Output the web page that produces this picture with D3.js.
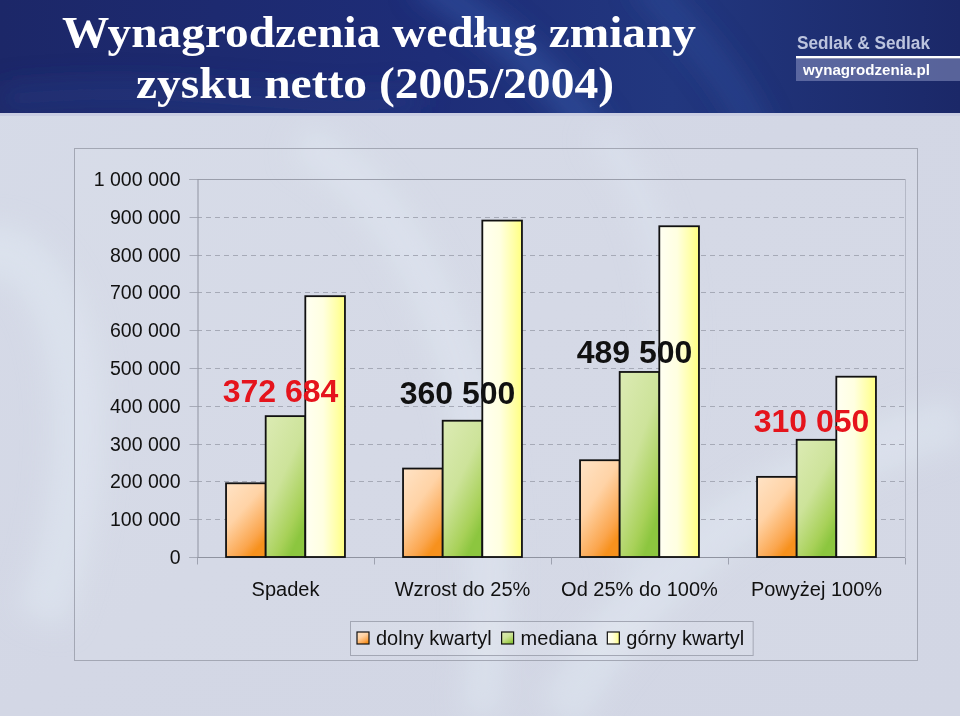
<!DOCTYPE html>
<html>
<head>
<meta charset="utf-8">
<script src="https://cdn.jsdelivr.net/npm/d3@7/dist/d3.min.js"></script>
<style>
  html, body { margin: 0; padding: 0; background: #d4d8e6; }
  svg { display: block; }
</style>
</head>
<body>
<svg id="chart" width="960" height="716"></svg>
<script>
// ---------------- DATA ----------------
const titleLines = ["Wynagrodzenia według zmiany", "zysku netto (2005/2004)"];
const categories = ["Spadek", "Wzrost do 25%", "Od 25% do 100%", "Powyżej 100%"];
const seriesNames = ["dolny kwartyl", "mediana", "górny kwartyl"];
const lowerQuartile = [195000, 234000, 256000, 212000];
const medianValues  = [372684, 360500, 489500, 310050];
const upperQuartile = [690000, 890000, 875000, 477000];
const medianLabels  = ["372 684", "360 500", "489 500", "310 050"];
const labelAnchor   = [410000, 406000, 512000, 331000]; // value level of each label's baseline
const yTicks = [0, 100000, 200000, 300000, 400000, 500000, 600000, 700000, 800000, 900000, 1000000];
const yMax = 1000000;

// --------------- SETUP ---------------
const svg = d3.select("#chart");
const defs = svg.append("defs");
const W = 960, H = 716;

// background texture
const bgGrad = defs.append("linearGradient").attr("id", "bgGrad").attr("x1", 0).attr("y1", 0).attr("x2", 1).attr("y2", 1);
bgGrad.append("stop").attr("offset", 0).attr("stop-color", "#d6dbe8");
bgGrad.append("stop").attr("offset", 0.5).attr("stop-color", "#d3d7e5");
bgGrad.append("stop").attr("offset", 1).attr("stop-color", "#d2d6e4");
svg.append("rect").attr("width", W).attr("height", H).attr("fill", "url(#bgGrad)");
const blur = defs.append("filter").attr("id", "soft").attr("x", "-50%").attr("y", "-50%").attr("width", "200%").attr("height", "200%");
blur.append("feGaussianBlur").attr("stdDeviation", 14);
const swoosh = svg.append("g").attr("filter", "url(#soft)");
swoosh.append("path").attr("d", "M-40,260 C60,200 120,420 40,620").attr("stroke", "#dfe8f1").attr("stroke-width", 50).attr("fill", "none").attr("opacity", 0.6);
swoosh.append("path").attr("d", "M300,140 C420,200 520,420 480,716").attr("stroke", "#dde6f0").attr("stroke-width", 40).attr("fill", "none").attr("opacity", 0.6);
swoosh.append("path").attr("d", "M560,716 C650,560 760,480 960,420").attr("stroke", "#dde6f0").attr("stroke-width", 50).attr("fill", "none").attr("opacity", 0.6);
swoosh.append("path").attr("d", "M600,130 C700,260 680,420 620,560").attr("stroke", "#dce4ef").attr("stroke-width", 30).attr("fill", "none").attr("opacity", 0.5);

// header
const hdGrad = defs.append("linearGradient").attr("id", "hdGrad").attr("x1", 0).attr("y1", 0).attr("x2", 1).attr("y2", 0);
hdGrad.append("stop").attr("offset", 0).attr("stop-color", "#1c2768");
hdGrad.append("stop").attr("offset", 0.45).attr("stop-color", "#1e2d78");
hdGrad.append("stop").attr("offset", 0.7).attr("stop-color", "#22377f");
hdGrad.append("stop").attr("offset", 1).attr("stop-color", "#1b2868");
svg.append("rect").attr("x", 0).attr("y", 0).attr("width", W).attr("height", 113).attr("fill", "url(#hdGrad)");
const hdClip = defs.append("clipPath").attr("id", "hdClip");
hdClip.append("rect").attr("width", W).attr("height", 113);
const hdArt = svg.append("g").attr("clip-path", "url(#hdClip)").append("g").attr("filter", "url(#soft)");
hdArt.append("path").attr("d", "M420,-20 C520,40 560,90 600,140").attr("stroke", "#3b62b0").attr("stroke-width", 26).attr("fill", "none").attr("opacity", 0.55);
hdArt.append("path").attr("d", "M640,-20 C700,40 740,90 760,140").attr("stroke", "#3557a6").attr("stroke-width", 22).attr("fill", "none").attr("opacity", 0.45);
hdArt.append("path").attr("d", "M0,100 C200,80 300,120 420,100").attr("stroke", "#2a3f8c").attr("stroke-width", 20).attr("fill", "none").attr("opacity", 0.5);
svg.append("rect").attr("x", 0).attr("y", 113).attr("width", W).attr("height", 3).attr("fill", "#c9cde2");

// title
const titleG = svg.append("g").attr("font-family", "'Liberation Serif','Times New Roman',serif").attr("font-weight", "bold").attr("fill", "#ffffff");
const titleSpecs = [{ x: 62, w: 634, y: 47 }, { x: 136, w: 478, y: 98 }];
titleLines.forEach((t, i) => {
  titleG.append("text").attr("x", titleSpecs[i].x).attr("y", titleSpecs[i].y)
    .attr("font-size", 45).attr("textLength", titleSpecs[i].w).attr("lengthAdjust", "spacingAndGlyphs").text(t);
});

// logo
svg.append("text").attr("x", 797).attr("y", 49).attr("font-family", "'Liberation Sans',Arial,sans-serif")
  .attr("font-weight", "bold").attr("font-size", 18).attr("fill", "#bcc4de").attr("textLength", 133).attr("lengthAdjust", "spacingAndGlyphs")
  .text("Sedlak & Sedlak");
svg.append("rect").attr("x", 796).attr("y", 56).attr("width", 164).attr("height", 2.5).attr("fill", "#ffffff");
svg.append("rect").attr("x", 796).attr("y", 59).attr("width", 164).attr("height", 22).attr("fill", "#8a93c2").attr("opacity", 0.55);
svg.append("text").attr("x", 803).attr("y", 75).attr("font-family", "'Liberation Sans',Arial,sans-serif")
  .attr("font-weight", "bold").attr("font-size", 15).attr("fill", "#ffffff").attr("textLength", 127).attr("lengthAdjust", "spacingAndGlyphs")
  .text("wynagrodzenia.pl");

// chart outer box
svg.append("rect").attr("x", 74.5).attr("y", 148.5).attr("width", 843).attr("height", 512)
  .attr("fill", "#ffffff").attr("fill-opacity", 0.06).attr("stroke", "#a3a7b4").attr("stroke-width", 1);

// --------------- SCALES ---------------
const plot = { left: 197, right: 905, top: 179, bottom: 557 };
const x = d3.scaleBand().domain(categories).range([plot.left, plot.right]).padding(0);
const x1 = d3.scaleBand().domain(seriesNames).range([0, x.bandwidth()]).paddingInner(0).paddingOuter(0.733);
const y = d3.scaleLinear().domain([0, yMax]).range([plot.bottom, plot.top]);

// gradients for series
function mkGrad(id, stops, x2, y2) {
  const g = defs.append("linearGradient").attr("id", id).attr("x1", 0).attr("y1", 0).attr("x2", x2).attr("y2", y2);
  stops.forEach(s => g.append("stop").attr("offset", s[0]).attr("stop-color", s[1]));
}
mkGrad("gLow", [[0, "#ffe3c6"], [0.45, "#ffd3a6"], [0.85, "#fba64e"], [1, "#f7911d"]], 0.6, 1);
mkGrad("gMed", [[0, "#dcebb4"], [0.5, "#cde39a"], [0.85, "#a8d159"], [1, "#8cc63f"]], 0.6, 1);
mkGrad("gUp",  [[0, "#fffff2"], [0.45, "#ffffe0"], [0.8, "#ffffa6"], [1, "#ffff80"]], 1, 0);
const fills = { "dolny kwartyl": "url(#gLow)", "mediana": "url(#gMed)", "górny kwartyl": "url(#gUp)" };

// --------------- GRID & AXES ---------------
const gridG = svg.append("g");
gridG.selectAll("line").data(yTicks.filter(d => d > 0)).join("line")
  .attr("x1", plot.left).attr("x2", plot.right)
  .attr("y1", d => Math.round(y(d)) + 0.5).attr("y2", d => Math.round(y(d)) + 0.5)
  .attr("stroke", d => d === yMax ? "#9a9eab" : "#a6aab7")
  .attr("stroke-dasharray", d => d === yMax ? null : "5,4");
svg.append("line").attr("x1", plot.right + 0.5).attr("x2", plot.right + 0.5).attr("y1", plot.top).attr("y2", plot.bottom)
  .attr("stroke", "#b4b8c6").attr("stroke-width", 1);

const yAxis = svg.append("g").attr("transform", `translate(${plot.left + 0.5},0)`)
  .call(d3.axisLeft(y).tickValues(yTicks).tickSize(8).tickPadding(9)
    .tickFormat(d => d3.format(",")(d).replace(/,/g, " ")));
yAxis.select(".domain").attr("stroke", "#8f93a0");
yAxis.selectAll(".tick line").attr("stroke", "#a6aab7");
yAxis.selectAll(".tick text").attr("font-family", "'Liberation Sans',Arial,sans-serif").attr("font-size", 19.5).attr("fill", "#111");
yAxis.selectAll(".tick").attr("transform", d => `translate(0,${Math.round(y(d)) + 0.5})`);

const xAxis = svg.append("g").attr("transform", `translate(0,${plot.bottom + 0.5})`);
xAxis.append("line").attr("x1", plot.left).attr("x2", plot.right).attr("stroke", "#8f93a0");
const boundaries = categories.map(c => x(c)).concat([plot.right]);
xAxis.selectAll("line.tk").data(boundaries).join("line").attr("class", "tk")
  .attr("x1", d => Math.round(d) + 0.5).attr("x2", d => Math.round(d) + 0.5).attr("y1", 0).attr("y2", 7).attr("stroke", "#9ea2b0");
xAxis.selectAll("text").data(categories).join("text")
  .attr("x", d => x(d) + x.bandwidth() / 2).attr("y", 38).attr("text-anchor", "middle")
  .attr("font-family", "'Liberation Sans',Arial,sans-serif").attr("font-size", 20).attr("fill", "#111")
  .text(d => d);

// --------------- BARS ---------------
const rows = categories.map((c, i) => ({
  cat: c,
  vals: [lowerQuartile[i], medianValues[i], upperQuartile[i]]
}));
const groups = svg.append("g").selectAll("g").data(rows).join("g")
  .attr("transform", d => `translate(${x(d.cat)},0)`);
groups.selectAll("rect").data(d => d.vals.map((v, j) => ({ s: seriesNames[j], v }))).join("rect")
  .attr("x", d => x1(d.s)).attr("width", x1.bandwidth())
  .attr("y", d => y(d.v)).attr("height", d => y(0) - y(d.v))
  .attr("fill", d => fills[d.s]).attr("stroke", "#111").attr("stroke-width", 1.8);

// --------------- MEDIAN LABELS ---------------
svg.append("g").selectAll("text").data(categories).join("text")
  .attr("x", (d, i) => x(d) + x.bandwidth() / 2 - 5)
  .attr("y", (d, i) => y(labelAnchor[i]))
  .attr("text-anchor", "middle")
  .attr("font-family", "'Liberation Sans',Arial,sans-serif").attr("font-weight", "bold").attr("font-size", 32)
  .attr("fill", (d, i) => (i === 0 || i === categories.length - 1) ? "#e5141c" : "#111")
  .text((d, i) => medianLabels[i]);

// --------------- LEGEND ---------------
const legend = svg.append("g");
const legBox = legend.append("rect").attr("x", 350.5).attr("y", 621.5).attr("height", 34)
  .attr("fill", "#ffffff").attr("fill-opacity", 0.08).attr("stroke", "#a3a7b4");
let lx = 357;
seriesNames.forEach(s => {
  legend.append("rect").attr("x", lx).attr("y", 632).attr("width", 12).attr("height", 12)
    .attr("fill", fills[s]).attr("stroke", "#111").attr("stroke-width", 1.2);
  const t = legend.append("text").attr("x", lx + 19).attr("y", 645)
    .attr("font-family", "'Liberation Sans',Arial,sans-serif").attr("font-size", 20).attr("fill", "#111").text(s);
  lx += 19 + t.node().getComputedTextLength() + 10;
});
legBox.attr("width", lx - 350.5 - 1);
</script>
</body>
</html>
